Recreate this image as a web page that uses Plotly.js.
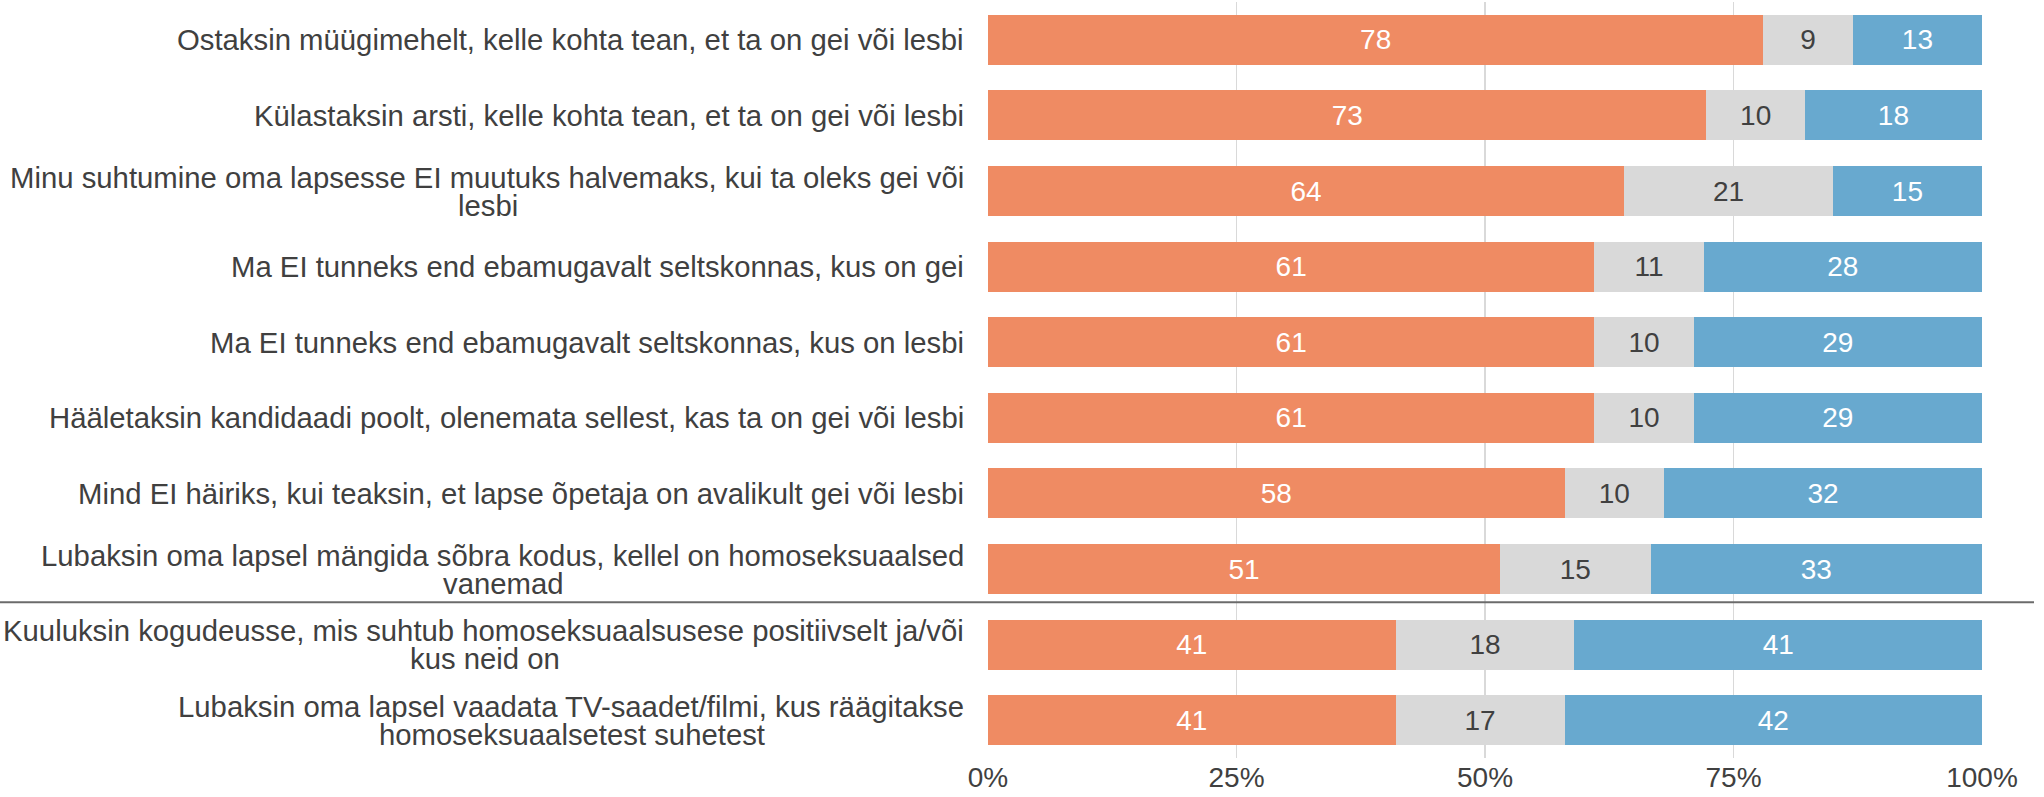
<!DOCTYPE html>
<html>
<head>
<meta charset="utf-8">
<script src="https://cdn.plot.ly/plotly-3.0.1.min.js"></script>
<style>html,body{margin:0;padding:0;background:#fff;}#chart{width:2044px;height:797px;}</style>
</head>
<body>
<div id="chart"></div>
<script>
// Category labels (lines separated by "|")
const categories = [
  "Ostaksin müügimehelt, kelle kohta tean, et ta on gei või lesbi",
  "Külastaksin arsti, kelle kohta tean, et ta on gei või lesbi",
  "Minu suhtumine oma lapsesse EI muutuks halvemaks, kui ta oleks gei või|lesbi",
  "Ma EI tunneks end ebamugavalt seltskonnas, kus on gei",
  "Ma EI tunneks end ebamugavalt seltskonnas, kus on lesbi",
  "Hääletaksin kandidaadi poolt, olenemata sellest, kas ta on gei või lesbi",
  "Mind EI häiriks, kui teaksin, et lapse õpetaja on avalikult gei või lesbi",
  "Lubaksin oma lapsel mängida sõbra kodus, kellel on homoseksuaalsed|vanemad",
  "Kuuluksin kogudeusse, mis suhtub homoseksuaalsusese positiivselt ja/või|kus neid on",
  "Lubaksin oma lapsel vaadata TV-saadet/filmi, kus räägitakse|homoseksuaalsetest suhetest"
];
const agreeValues   = [78, 73, 64, 61, 61, 61, 58, 51, 41, 41];
const neutralValues = [9, 10, 21, 11, 10, 10, 10, 15, 18, 17];
const disagreeValues= [13, 18, 15, 28, 29, 29, 32, 33, 41, 42];
const tickValues = [0, 25, 50, 75, 100];
const tickLabels = ["0%", "25%", "50%", "75%", "100%"];
const separatorAfterIndex = 7;

const FONT = "Liberation Sans, Arial, Helvetica, sans-serif";
const FS = 28;
const LFS = 29.3;
const TXT = "#404040";

const keys = categories.map(c => c.replace("|", " "));

function mk(vals, color, textColor) {
  return {
    type: "bar", orientation: "h",
    y: keys, x: vals,
    text: vals.map(String),
    textposition: "inside",
    insidetextanchor: "middle",
    textangle: 0,
    constraintext: "none",
    textfont: {family: FONT, size: FS, color: textColor},
    marker: {color: color, line: {width: 0}},
    hoverinfo: "skip",
    showlegend: false
  };
}

const data = [
  mk(agreeValues, "#EF8B63", "#ffffff"),
  mk(neutralValues, "#D9D9D9", TXT),
  mk(disagreeValues, "#68A9CF", "#ffffff")
];

const plotW = 994;
const gap = 23;
const canvas = document.createElement("canvas");
const ctx = canvas.getContext("2d");
ctx.font = LFS + "px 'Liberation Sans'";

const LS = 14;
const annotations = [];
categories.forEach((c, i) => {
  const lines = c.split("|");
  const base = {xref: "paper", yref: "y", x: -gap / plotW, y: keys[i], showarrow: false,
    font: {family: FONT, size: LFS, color: TXT}, borderpad: 0};
  if (lines.length === 1) {
    annotations.push(Object.assign({}, base, {text: lines[0], xanchor: "right", yanchor: "middle"}));
  } else {
    const w1 = ctx.measureText(lines[0]).width;
    annotations.push(Object.assign({}, base, {text: lines[0], xanchor: "right", yanchor: "middle", yshift: LS}));
    annotations.push(Object.assign({}, base, {text: lines[1], xanchor: "center", yanchor: "middle", yshift: -LS, xshift: -w1 / 2}));
  }
});

const layout = {
  width: 2044, height: 797,
  margin: {l: 988, r: 62, t: 2, b: 39, pad: 0},
  paper_bgcolor: "#ffffff", plot_bgcolor: "#ffffff",
  barmode: "stack", barnorm: "percent", bargap: 0.34,
  font: {family: FONT, size: FS, color: TXT},
  xaxis: {
    range: [0, 100], tickvals: tickValues, ticktext: tickLabels,
    showgrid: true, gridcolor: "#D9D9D9", gridwidth: 1.5, zeroline: false,
    showline: false, ticks: "",
    tickfont: {family: FONT, size: FS, color: TXT}, fixedrange: true
  },
  yaxis: {
    type: "category", categoryorder: "array", categoryarray: keys,
    range: [9.5, -0.5], showticklabels: false, showgrid: false, zeroline: false,
    showline: false, ticks: "", fixedrange: true
  },
  shapes: [{
    type: "line", xref: "paper", yref: "y",
    x0: -988 / plotW, x1: (2034 - 988) / plotW,
    y0: separatorAfterIndex + 0.44, y1: separatorAfterIndex + 0.44,
    line: {color: "#6b6b6b", width: 2}, layer: "above"
  }],
  annotations: annotations
};

Plotly.newPlot("chart", data, layout, {displayModeBar: false, staticPlot: true});
</script>
</body>
</html>
